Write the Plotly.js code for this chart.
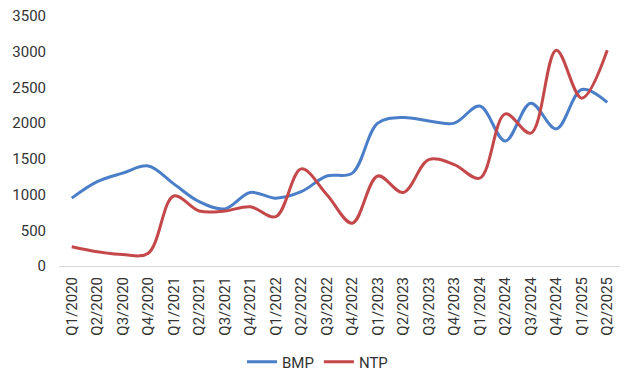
<!DOCTYPE html>
<html><head><meta charset="utf-8">
<script src="https://cdn.plot.ly/plotly-3.0.1.min.js"></script>
<style>html,body{margin:0;padding:0;background:#fff}#chart{width:635px;height:383px}</style>
</head><body><div id="chart"></div>
<script>
const quarters = ["Q1/2020","Q2/2020","Q3/2020","Q4/2020","Q1/2021","Q2/2021","Q3/2021","Q4/2021","Q1/2022","Q2/2022","Q3/2022","Q4/2022","Q1/2023","Q2/2023","Q3/2023","Q4/2023","Q1/2024","Q2/2024","Q3/2024","Q4/2024","Q1/2025","Q2/2025"];
const bmp = [950,1180,1300,1400,1150,900,800,1030,950,1040,1260,1300,2000,2080,2030,2000,2240,1750,2280,1920,2470,2290];
const ntp = [270,200,160,180,980,770,770,830,690,1360,1000,600,1260,1030,1490,1420,1230,2130,1860,3020,2350,3020];
const yTicks = [0,500,1000,1500,2000,2500,3000,3500];

const txt = {family:"Roboto, sans-serif", size:15, color:"#333333"};
Plotly.newPlot("chart", [
  {x:quarters, y:bmp, name:"BMP", type:"scatter", mode:"lines", line:{color:"#4A7EC8", width:3, shape:"spline", smoothing:1}},
  {x:quarters, y:ntp, name:"NTP", type:"scatter", mode:"lines", line:{color:"#C4474A", width:3, shape:"spline", smoothing:1}}
], {
  width:635, height:383,
  margin:{l:59, r:15, t:16, b:117},
  paper_bgcolor:"#fff", plot_bgcolor:"#fff",
  font:txt,
  showlegend:true,
  legend:{orientation:"h", xref:"container", x:0.5, xanchor:"center", yref:"container", y:0.055, yanchor:"middle", font:txt, itemwidth:30, tracegroupgap:0},
  xaxis:{type:"category", range:[-0.5,21.5], tickangle:-90, showgrid:false, showline:true, linecolor:"#D9D9D9", linewidth:1, ticks:"", zeroline:false, ticklabelstandoff:4, tickfont:txt},
  yaxis:{range:[0,3500], tickvals:yTicks, showgrid:false, zeroline:false, showline:false, ticks:"", ticklabelstandoff:12, tickfont:txt}
}, {displayModeBar:false, staticPlot:true});
</script></body></html>
